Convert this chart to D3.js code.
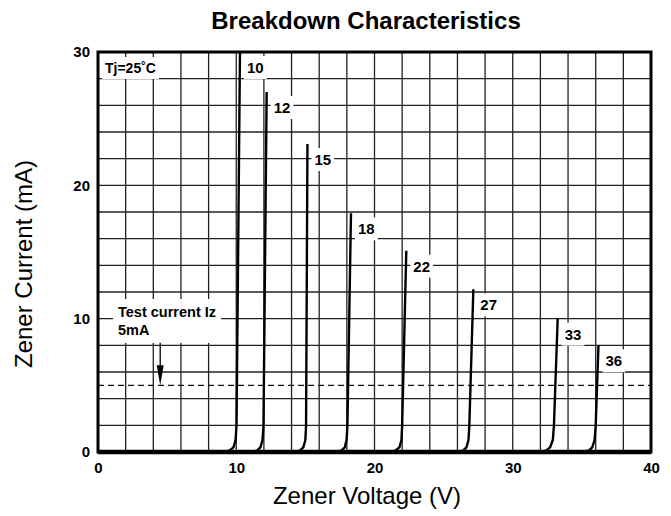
<!DOCTYPE html>
<html>
<head>
    <meta charset="UTF-8">
    <style>
        body { margin: 0; background: #fff; }
        text { font-family: "Liberation Sans", Arial, sans-serif; }
        .tick text { font-weight: bold; font-size: 15px; fill: #000; }
        .grid line { stroke: #222; stroke-width: 1.3; }
        .curve { fill: none; stroke: #000; stroke-width: 2.4; stroke-linejoin: round; }
    </style>
</head>
<body>
    <script src="https://cdn.jsdelivr.net/npm/d3@7"></script>
    <script>
// zener voltage of each diode (also its label)
var diodes = [10, 12, 15, 18, 22, 27, 33, 36];

// [V, mA] points, one list per diode
var curves = [
    [[9.0, 0], [9.5, 0.1], [9.8, 0.35], [9.95, 0.9], [10.02, 2.0], [10.27, 30]],
    [[11.0, 0], [11.5, 0.1], [11.75, 0.35], [11.9, 0.9], [11.97, 2.0], [12.2, 27.0]],
    [[14.1, 0], [14.6, 0.1], [14.85, 0.35], [15.0, 0.9], [15.05, 2.0], [15.15, 23.1]],
    [[17.1, 0], [17.6, 0.1], [17.85, 0.35], [17.98, 0.9], [18.04, 2.0], [18.3, 17.9]],
    [[21.0, 0], [21.5, 0.1], [21.8, 0.35], [21.95, 0.9], [22.0, 2.0], [22.3, 15.1]],
    [[25.9, 0], [26.4, 0.1], [26.65, 0.35], [26.8, 0.9], [26.86, 2.0], [27.15, 12.2]],
    [[31.9, 0], [32.4, 0.1], [32.7, 0.35], [32.9, 0.9], [32.98, 2.0], [33.25, 10.0]],
    [[35.0, 0], [35.5, 0.1], [35.75, 0.35], [35.92, 0.9], [36.0, 2.0], [36.2, 8.0]]
];

var xTicks = [0, 10, 20, 30, 40];
var yTicks = [0, 10, 20, 30];
var testCurrent = 5;      // mA, dashed line
var arrowAt = 4.5;        // V, where the arrow points down

var width = 671, height = 516;
var margin = {left: 98, right: 20, top: 52, bottom: 64};
var w = width - margin.left - margin.right, h = height - margin.top - margin.bottom;

var svg = d3.select("body").append("svg").attr("width", width).attr("height", height);

var x = d3.scaleLinear().domain([0, 40]).range([0, w]);
var y = d3.scaleLinear().domain([0, 30]).range([h, 0]);

svg.append("text")
    .attr("x", 366).attr("y", 29)
    .attr("text-anchor", "middle")
    .style("font-size", "24px").style("font-weight", "bold")
    .text("Breakdown Characteristics");

var g = svg.append("g").attr("transform", "translate(" + margin.left + "," + margin.top + ")");

// grid, 2V by 2mA
var grid = g.append("g").attr("class", "grid");
grid.selectAll(".vx").data(x.ticks(20)).enter().append("line")
    .attr("x1", x).attr("x2", x).attr("y1", 0).attr("y2", h);
grid.selectAll(".hy").data(y.ticks(15)).enter().append("line")
    .attr("y1", y).attr("y2", y).attr("x1", 0).attr("x2", w);

// test current line
g.append("line")
    .attr("x1", 0).attr("x2", w)
    .attr("y1", y(testCurrent)).attr("y2", y(testCurrent))
    .style("stroke", "#111").style("stroke-width", 1.3).style("stroke-dasharray", "6,4");

// white boxes behind the labels
function boxedText(px, py, lines, size, pad) {
    var grp = g.append("g");
    var t = grp.append("text").attr("x", px).attr("y", py)
        .style("font-size", size + "px").style("font-weight", "bold");
    lines.forEach(function(s, i) {
        t.append("tspan").attr("x", px).attr("dy", i ? 18 : 0).text(s);
    });
    var b = t.node().getBBox();
    grp.insert("rect", "text")
        .attr("x", b.x - pad).attr("y", b.y - pad)
        .attr("width", b.width + pad * 2).attr("height", b.height + pad * 2)
        .style("fill", "#fff");
    return grp;
}

boxedText(7, 21, ["Tj=25\u02DAC"], 14, 3);
boxedText(20, 265, ["Test current Iz", "5mA"], 14.5, 5);

// arrow down to the test current
g.append("line")
    .attr("x1", x(arrowAt)).attr("x2", x(arrowAt))
    .attr("y1", y(8.2)).attr("y2", y(testCurrent + 0.8))
    .style("stroke", "#000").style("stroke-width", 1.3);
g.append("path")
    .attr("d", "M" + (x(arrowAt) - 3.5) + "," + y(6.5) + "L" + (x(arrowAt) + 3.5) + "," + y(6.5) +
        "L" + x(arrowAt) + "," + y(testCurrent) + "Z")
    .style("fill", "#000");

// diode labels near the top of each curve
diodes.forEach(function(v, i) {
    var top = curves[i][curves[i].length - 1];
    var py = Math.max(y(top[1]), 0) + 21;
    boxedText(x(top[0]) + 7, py, [String(v)], 15, 3);
});

var line = d3.line().x(function(d) { return x(d[0]); }).y(function(d) { return y(d[1]); });
g.selectAll(".curve").data(curves).enter().append("path")
    .attr("class", "curve")
    .attr("d", line);

// frame
g.append("rect").attr("width", w).attr("height", h)
    .style("fill", "none").style("stroke", "#000").style("stroke-width", 3);
g.append("line").attr("x1", 0).attr("x2", w).attr("y1", h).attr("y2", h)
    .style("stroke", "#000").style("stroke-width", 4.5);

// axes
g.append("g").attr("transform", "translate(0," + h + ")")
    .call(d3.axisBottom(x).tickValues(xTicks).tickSize(0).tickPadding(10))
    .call(function(a) { a.select(".domain").remove(); });
g.append("g")
    .call(d3.axisLeft(y).tickValues(yTicks).tickSize(0).tickPadding(8))
    .call(function(a) { a.select(".domain").remove(); });

svg.append("text")
    .attr("x", 367).attr("y", 504)
    .attr("text-anchor", "middle")
    .style("font-size", "24px")
    .text("Zener Voltage (V)");

svg.append("text")
    .attr("transform", "translate(32,264) rotate(-90)")
    .attr("text-anchor", "middle")
    .style("font-size", "24px")
    .text("Zener Current (mA)");
    </script>
</body>
</html>
